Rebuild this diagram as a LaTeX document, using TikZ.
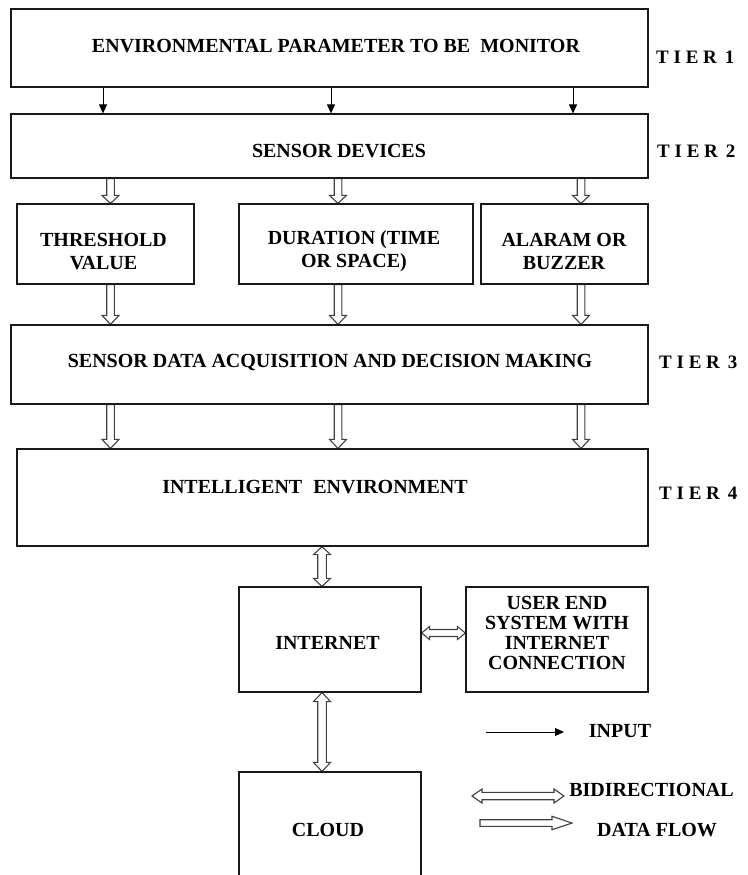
\documentclass[tikz,border=0pt]{standalone}
\usepackage{fontspec}
\setmainfont{Liberation Serif}
\usetikzlibrary{calc,arrows.meta,backgrounds}
% single block arrow: #1 start, #2 tip, #3 shaft half width, #4 head half width, #5 head length
\newcommand\flowarr[5]{%
\draw[flowline] let \p1=(#1), \p2=(#2), \n1={atan2(\y2-\y1,\x2-\x1)}, \n2={veclen(\x2-\x1,\y2-\y1)} in
 ($(\p1)+(\n1+90:#3)$) -- ($(\p1)+(\n1:\n2-#5)+(\n1+90:#3)$) -- ($(\p1)+(\n1:\n2-#5)+(\n1+90:#4)$) -- (\p2)
 -- ($(\p1)+(\n1:\n2-#5)+(\n1-90:#4)$) -- ($(\p1)+(\n1:\n2-#5)+(\n1-90:#3)$) -- ($(\p1)+(\n1-90:#3)$) -- cycle;}
% double-headed block arrow
\newcommand\bidarr[5]{%
\draw[flowline] let \p1=(#1), \p2=(#2), \n1={atan2(\y2-\y1,\x2-\x1)}, \n2={veclen(\x2-\x1,\y2-\y1)} in
 (\p1) -- ($(\p1)+(\n1:#5)+(\n1+90:#4)$) -- ($(\p1)+(\n1:#5)+(\n1+90:#3)$) -- ($(\p1)+(\n1:\n2-#5)+(\n1+90:#3)$)
 -- ($(\p1)+(\n1:\n2-#5)+(\n1+90:#4)$) -- (\p2) -- ($(\p1)+(\n1:\n2-#5)+(\n1-90:#4)$) -- ($(\p1)+(\n1:\n2-#5)+(\n1-90:#3)$)
 -- ($(\p1)+(\n1:#5)+(\n1-90:#3)$) -- ($(\p1)+(\n1:#5)+(\n1-90:#4)$) -- cycle;}
\begin{document}
\begin{tikzpicture}[x=1pt,y=-1pt,
  box/.style={draw=black!90, line width=1.2pt, rectangle, inner sep=0pt},
  txt/.style={font=\fontsize{20}{23}\selectfont\bfseries, inner sep=0pt, align=center},
  tier/.style={font=\fontsize{19}{19}\selectfont\bfseries, inner sep=0pt, anchor=west},
  inarrow/.style={line width=1pt, -{Triangle[length=9pt,width=8pt]}},
  flowline/.style={draw=black!75, line width=1.1pt, fill=white, line join=miter},
]
\path[use as bounding box] (0,0) rectangle (747,875);
\clip (0,0) rectangle (747,875);

% boxes
\node[box, minimum width=637pt, minimum height=78pt] (top) at (329.5,48) {};
\node[box, minimum width=637pt, minimum height=64pt] (b2) at (329.5,146) {};
\node[box, minimum width=177pt, minimum height=80pt] (rA) at (105.5,244) {};
\node[box, minimum width=234pt, minimum height=80pt] (rB) at (356,244) {};
\node[box, minimum width=167pt, minimum height=80pt] (rC) at (564.5,244) {};
\node[box, minimum width=637pt, minimum height=79pt] (b3) at (329.5,364.5) {};
\node[box, minimum width=631pt, minimum height=97pt] (b4) at (332.5,497.5) {};
\node[box, minimum width=182pt, minimum height=105pt] (inet) at (330,639.5) {};
\node[box, minimum width=182pt, minimum height=105pt] (user) at (557,639.5) {};
\node[box, minimum width=182pt, minimum height=128pt] (cloud) at (330,836) {};

% texts
\node[txt] (t1) at (336,46) {ENVIRONMENTAL PARAMETER TO BE\ \ MONITOR};
\node[txt] (t2) at (339,151) {SENSOR DEVICES};
\node[txt] (tA) at (103.5,251.5) {THRESHOLD\\VALUE};
\node[txt] (tB) at (354,251.5) {DURATION (TIME\\OR SPACE)};
\node[txt] (tC) at (564,251.5) {ALARAM OR\\BUZZER};
\node[txt] (t3) at (330,362) {SENSOR DATA ACQUISITION AND DECISION MAKING};
\node[txt] (t4) at (315,487) {INTELLIGENT\hspace{.3em} ENVIRONMENT};
\node[txt] (tinet) at (327.5,643) {INTERNET};
\node[txt, font=\fontsize{20}{20}\selectfont\bfseries] (tuser) at (557,633) {USER END\\SYSTEM WITH\\INTERNET\\CONNECTION};
\node[txt] (tcloud) at (328,830) {CLOUD};

% tier labels
\node[tier] (T1) at (656,57) {T I E R\, 1};
\node[tier] (T2) at (657,151) {T I E R\, 2};
\node[tier] (T3) at (659,362) {T I E R\, 3};
\node[tier] (T4) at (659,493) {T I E R\, 4};

% column coordinates
\coordinate (i1) at (103,0);
\coordinate (i2) at (331,0);
\coordinate (i3) at (573,0);
\coordinate (c1) at (110.5,0);
\coordinate (c2) at (338,0);
\coordinate (c3) at (581,0);
\coordinate (cv) at (322,0);
\coordinate (hy) at (0,633);

% input arrows
\draw[inarrow] (top.south -| i1) -- (b2.north -| i1);
\draw[inarrow] (top.south -| i2) -- (b2.north -| i2);
\draw[inarrow] (top.south -| i3) -- (b2.north -| i3);

\begin{pgfonlayer}{background}
\flowarr{b2.south -| c1}{rA.north -| c1}{3.8pt}{8.5pt}{8pt}
\flowarr{b2.south -| c2}{rB.north -| c2}{3.8pt}{8.5pt}{8pt}
\flowarr{b2.south -| c3}{rC.north -| c3}{3.8pt}{8.5pt}{8pt}
\flowarr{rA.south -| c1}{b3.north -| c1}{3.8pt}{8.5pt}{9pt}
\flowarr{rB.south -| c2}{b3.north -| c2}{3.8pt}{8.5pt}{9pt}
\flowarr{rC.south -| c3}{b3.north -| c3}{3.8pt}{8.5pt}{9pt}
\flowarr{b3.south -| c1}{b4.north -| c1}{3.8pt}{8.5pt}{9pt}
\flowarr{b3.south -| c2}{b4.north -| c2}{3.8pt}{8.5pt}{9pt}
\flowarr{b3.south -| c3}{b4.north -| c3}{3.8pt}{8.5pt}{9pt}
\bidarr{b4.south -| cv}{inet.north -| cv}{4.3pt}{8.5pt}{8pt}
\bidarr{inet.south -| cv}{cloud.north -| cv}{4.3pt}{8.5pt}{9pt}
\bidarr{inet.east |- hy}{user.west |- hy}{3.5pt}{6.5pt}{8pt}
\end{pgfonlayer}

% legend
\coordinate (lin1) at (486,732);
\coordinate (lin2) at (564,732);
\draw[inarrow] (lin1) -- (lin2);
\node[txt] (linput) at (620,731) {INPUT};
\coordinate (lb1) at (472,796);
\coordinate (lb2) at (564,796);
\bidarr{lb1}{lb2}{3.7pt}{7pt}{10pt}
\node[txt] (lbid) at (651.5,790) {BIDIRECTIONAL};
\coordinate (ld1) at (480,823);
\coordinate (ld2) at (572,823);
\flowarr{ld1}{ld2}{3.3pt}{6.7pt}{20pt}
\node[txt] (ldf) at (657,830) {DATA FLOW};
\end{tikzpicture}
\end{document}
